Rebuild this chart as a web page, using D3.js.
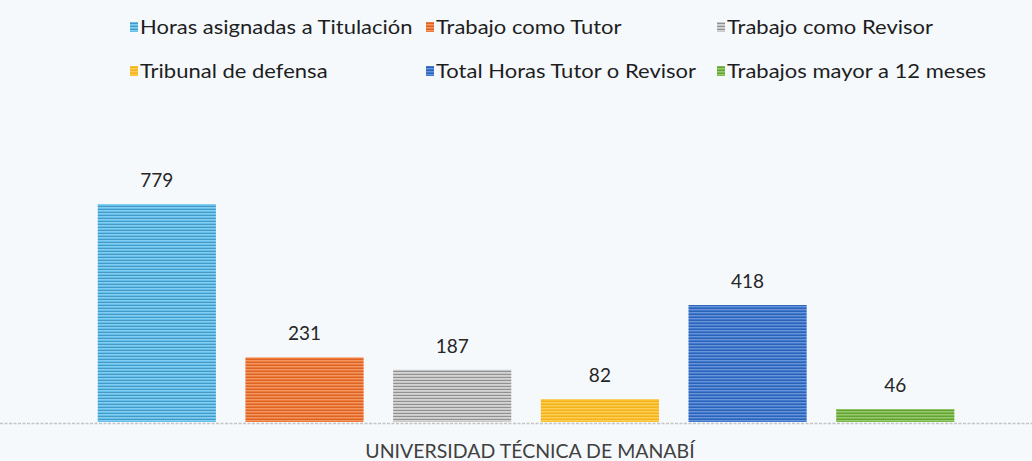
<!DOCTYPE html>
<html>
<head>
<meta charset="utf-8">
<script src="https://cdn.jsdelivr.net/npm/d3@7"></script>
<style>
  html, body { margin: 0; padding: 0; background: #f5f9fc; }
  svg { display: block; }
</style>
</head>
<body>
<svg id="chart"></svg>
<script>
// data
const categories = ["Horas asignadas a Titulación", "Trabajo como Tutor", "Trabajo como Revisor",
    "Tribunal de defensa", "Total Horas Tutor o Revisor", "Trabajos mayor a 12 meses"];
const values = [779, 231, 187, 82, 418, 46];
const colors = ["#62c0ec", "#ee7b38", "#c9c9c9", "#fdc02d", "#3f78cf", "#7cba4a"];
const stripeColors = ["#2a6f9e", "#c84b14", "#5a5a5a", "#e6a412", "#1c4c9c", "#4c8a22"];
const axisTitle = "UNIVERSIDAD TÉCNICA DE MANABÍ";

const width = 1032, height = 461;
const baseline = 422;

const svg = d3.select("#chart")
    .attr("width", width)
    .attr("height", height)
    .attr("font-family", "Lato, 'Noto Sans', sans-serif");

const x = d3.scaleBand()
    .domain(categories)
    .range([23.9, 1028.2])
    .paddingInner(0.2)
    .paddingOuter(0.5);

const y = d3.scaleLinear()
    .domain([0, 779])
    .range([baseline, 204]);

// striped fills, like the printed patterns
const defs = svg.append("defs");
categories.forEach((c, i) => {
    const p = defs.append("pattern")
        .attr("id", "pat" + i)
        .attr("patternUnits", "userSpaceOnUse")
        .attr("width", 6)
        .attr("height", 3);
    p.append("rect")
        .attr("width", 6).attr("height", 3)
        .attr("fill", colors[i]);
    p.append("rect")
        .attr("y", 2).attr("width", 6).attr("height", 1)
        .attr("fill", stripeColors[i])
        .attr("opacity", 0.5);
    p.append("rect")
        .attr("y", 0).attr("width", 6).attr("height", 0.6)
        .attr("fill", "#ffffff")
        .attr("opacity", 0.35);
});

// axis line (dotted grey)
svg.append("line")
    .attr("x1", 0).attr("x2", width)
    .attr("y1", baseline + 1.5).attr("y2", baseline + 1.5)
    .attr("stroke", "#c4c4c4")
    .attr("stroke-width", 1.5)
    .attr("stroke-dasharray", "3,1.5");

// bars
svg.append("g")
    .selectAll("rect")
    .data(values)
    .enter().append("rect")
    .attr("x", (d, i) => x(categories[i]))
    .attr("y", d => y(d))
    .attr("width", x.bandwidth())
    .attr("height", d => baseline - y(d))
    .attr("fill", (d, i) => `url(#pat${i})`);

// value labels
svg.append("g")
    .attr("font-size", 19)
    .attr("fill", "#262626")
    .attr("text-anchor", "middle")
    .selectAll("text")
    .data(values)
    .enter().append("text")
    .attr("x", (d, i) => x(categories[i]) + x.bandwidth() / 2)
    .attr("y", d => y(d) - 17)
    .text(d => d);

// axis title
svg.append("text")
    .attr("x", 530)
    .attr("y", 458)
    .attr("text-anchor", "middle")
    .attr("font-size", 19.5)
    .attr("fill", "#404040")
    .text(axisTitle);

// legend: 3 columns x 2 rows, text a bit stretched like the scan
const colX = [130, 426, 717];
const rowY = [27, 71];
const legend = svg.append("g")
    .selectAll("g")
    .data(categories)
    .enter().append("g")
    .attr("transform", (d, i) => `translate(${colX[i % 3]},${rowY[Math.floor(i / 3)]})`);

legend.append("rect")
    .attr("x", 0).attr("y", -5)
    .attr("width", 8).attr("height", 10)
    .attr("fill", (d, i) => `url(#pat${i})`);

legend.append("text")
    .attr("x", 10)
    .attr("dy", "0.35em")
    .attr("font-size", 20)
    .attr("fill", "#1e1e1e")
    .text(d => d)
    .each(function() {
        const w = this.getComputedTextLength();
        d3.select(this)
            .attr("textLength", w * 1.1)
            .attr("lengthAdjust", "spacingAndGlyphs");
    });
</script>
</body>
</html>
